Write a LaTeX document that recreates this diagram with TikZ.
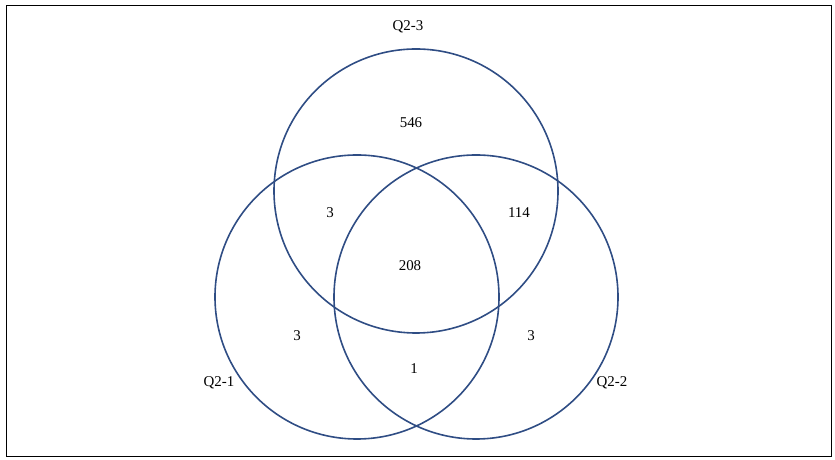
\documentclass[tikz,border=0pt]{standalone}
\usepackage{fontspec}
\setmainfont{Liberation Serif}

\begin{document}
\begin{tikzpicture}[x=1bp,y=1bp,every node/.style={font=\fontsize{15}{17}\selectfont,inner sep=0},
  setring/.style={draw=ring,line width=1.6bp,circle,minimum size=284bp}]
\path[use as bounding box] (0,0) rectangle (835,460);
\definecolor{ring}{HTML}{2F4D84}
\draw[black,line width=0.9bp] (6,4) rectangle (831,455);
\node[setring] (q23) at (416,269) {};
\node[setring] (q21) at (357,163) {};
\node[setring] (q22) at (476,163) {};
\node (t23) at (408,433) {Q2-3};
\node (t21) at (219,77) {Q2-1};
\node (t22) at (612,77) {Q2-2};
\node (only3) at (411,337) {546};
\node (n13) at (330,247) {3};
\node (n23) at (519,247) {114};
\node (all) at (410,194) {208};
\node (only1) at (297,124) {3};
\node (only2) at (531,124) {3};
\node (n12) at (414,91) {1};
\end{tikzpicture}
\end{document}
